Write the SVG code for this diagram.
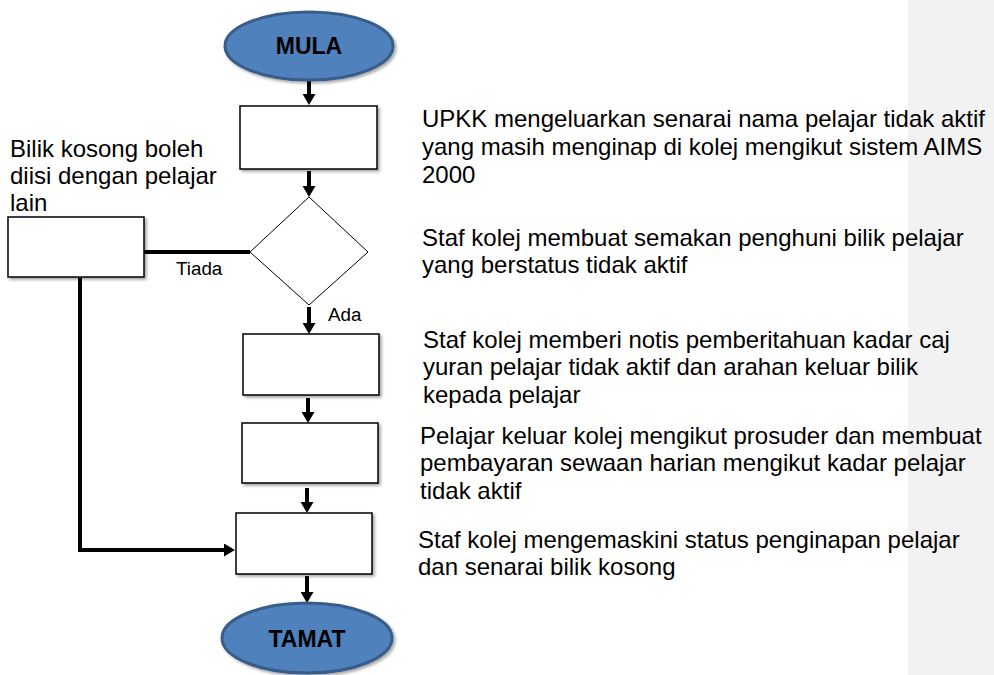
<svg xmlns="http://www.w3.org/2000/svg" width="994" height="675" viewBox="0 0 994 675">
  <defs>
    <filter id="shadow" x="-10%" y="-10%" width="130%" height="130%">
      <feDropShadow dx="2" dy="2" stdDeviation="1.5" flood-color="#000" flood-opacity="0.35"/>
    </filter>
    <marker id="arrow" markerUnits="userSpaceOnUse" markerWidth="11" markerHeight="13" refX="2" refY="6.5" orient="auto">
      <path d="M0,0 L11,6.5 L0,13 z" fill="#000"/>
    </marker>
    <style>
      .terminal { fill: #4f81bd; stroke: #385d8a; stroke-width: 3; filter: url(#shadow); }
      .box { fill: #fff; stroke: #000; stroke-width: 1.5; filter: url(#shadow); }
      .decision { fill: #fff; stroke: #000; stroke-width: 1; }
      .conn { fill: none; stroke: #000; stroke-width: 4; }
      .arrowed { marker-end: url(#arrow); }
      .term-text { font-family: "Liberation Sans", Arial, sans-serif; font-weight: bold; font-size: 23px; fill: #000; text-anchor: middle; }
      .desc { font-family: "Liberation Sans", Arial, sans-serif; font-size: 24px; fill: #000; }
      .label { font-family: "Liberation Sans", Arial, sans-serif; font-size: 18.8px; fill: #000; }
    </style>
  </defs>

  <!-- comment pane on the right -->
  <rect x="908" y="0" width="86" height="675" fill="#f2f2f2"/>

  <!-- connectors -->
  <g id="connectors">
    <line class="conn arrowed" x1="309" y1="80" x2="309" y2="96"/>
    <line class="conn arrowed" x1="309" y1="171" x2="309" y2="188"/>
    <line class="conn arrowed" x1="309" y1="307" x2="309" y2="325"/>
    <line class="conn arrowed" x1="308" y1="398" x2="308" y2="414"/>
    <line class="conn arrowed" x1="307" y1="488" x2="307" y2="504"/>
    <line class="conn arrowed" x1="307" y1="576" x2="307" y2="594"/>
    <line class="conn" x1="144" y1="252" x2="250" y2="252"/>
    <path class="conn arrowed" d="M80,278 V550 H226"/>
    <text class="label" x="176" y="275">Tiada</text>
    <text class="label" x="328" y="321">Ada</text>
  </g>

  <g id="start">
    <ellipse class="terminal" cx="309" cy="46" rx="84" ry="34"/>
    <text class="term-text" x="309" y="54">MULA</text>
  </g>

  <g id="step1">
    <rect class="box" x="240" y="106" width="137" height="63"/>
  </g>

  <g id="decision">
    <polygon class="decision" points="309,197 368,252 309,305 250,252"/>
  </g>

  <g id="vacant-room">
    <rect class="box" x="8" y="217" width="136" height="60"/>
  </g>

  <g id="step3">
    <rect class="box" x="243" y="334" width="136" height="61"/>
  </g>

  <g id="step4">
    <rect class="box" x="242" y="423" width="136" height="60"/>
  </g>

  <g id="step5">
    <rect class="box" x="236" y="513" width="136" height="61"/>
  </g>

  <g id="end">
    <ellipse class="terminal" cx="307" cy="638" rx="85" ry="35"/>
    <text class="term-text" x="307" y="647">TAMAT</text>
  </g>

  <!-- side notes -->
  <g id="note-vacant">
    <text class="desc" x="10" y="157">Bilik kosong boleh</text>
    <text class="desc" x="10" y="184">diisi dengan pelajar</text>
    <text class="desc" x="10" y="211">lain</text>
  </g>

  <g id="desc-step1">
    <text class="desc" x="422" y="127">UPKK mengeluarkan senarai nama pelajar tidak aktif</text>
    <text class="desc" x="422" y="155">yang masih menginap di kolej mengikut sistem AIMS</text>
    <text class="desc" x="422" y="183">2000</text>
  </g>

  <g id="desc-decision">
    <text class="desc" x="422" y="246">Staf kolej membuat semakan penghuni bilik pelajar</text>
    <text class="desc" x="422" y="273">yang berstatus tidak aktif</text>
  </g>

  <g id="desc-step3">
    <text class="desc" x="423" y="348">Staf kolej memberi notis pemberitahuan kadar caj</text>
    <text class="desc" x="423" y="375">yuran pelajar tidak aktif dan arahan keluar bilik</text>
    <text class="desc" x="423" y="403">kepada pelajar</text>
  </g>

  <g id="desc-step4">
    <text class="desc" x="420" y="444">Pelajar keluar kolej mengikut prosuder dan membuat</text>
    <text class="desc" x="420" y="471">pembayaran sewaan harian mengikut kadar pelajar</text>
    <text class="desc" x="420" y="499">tidak aktif</text>
  </g>

  <g id="desc-step5">
    <text class="desc" x="418" y="548">Staf kolej mengemaskini status penginapan pelajar</text>
    <text class="desc" x="418" y="575">dan senarai bilik kosong</text>
  </g>
</svg>
